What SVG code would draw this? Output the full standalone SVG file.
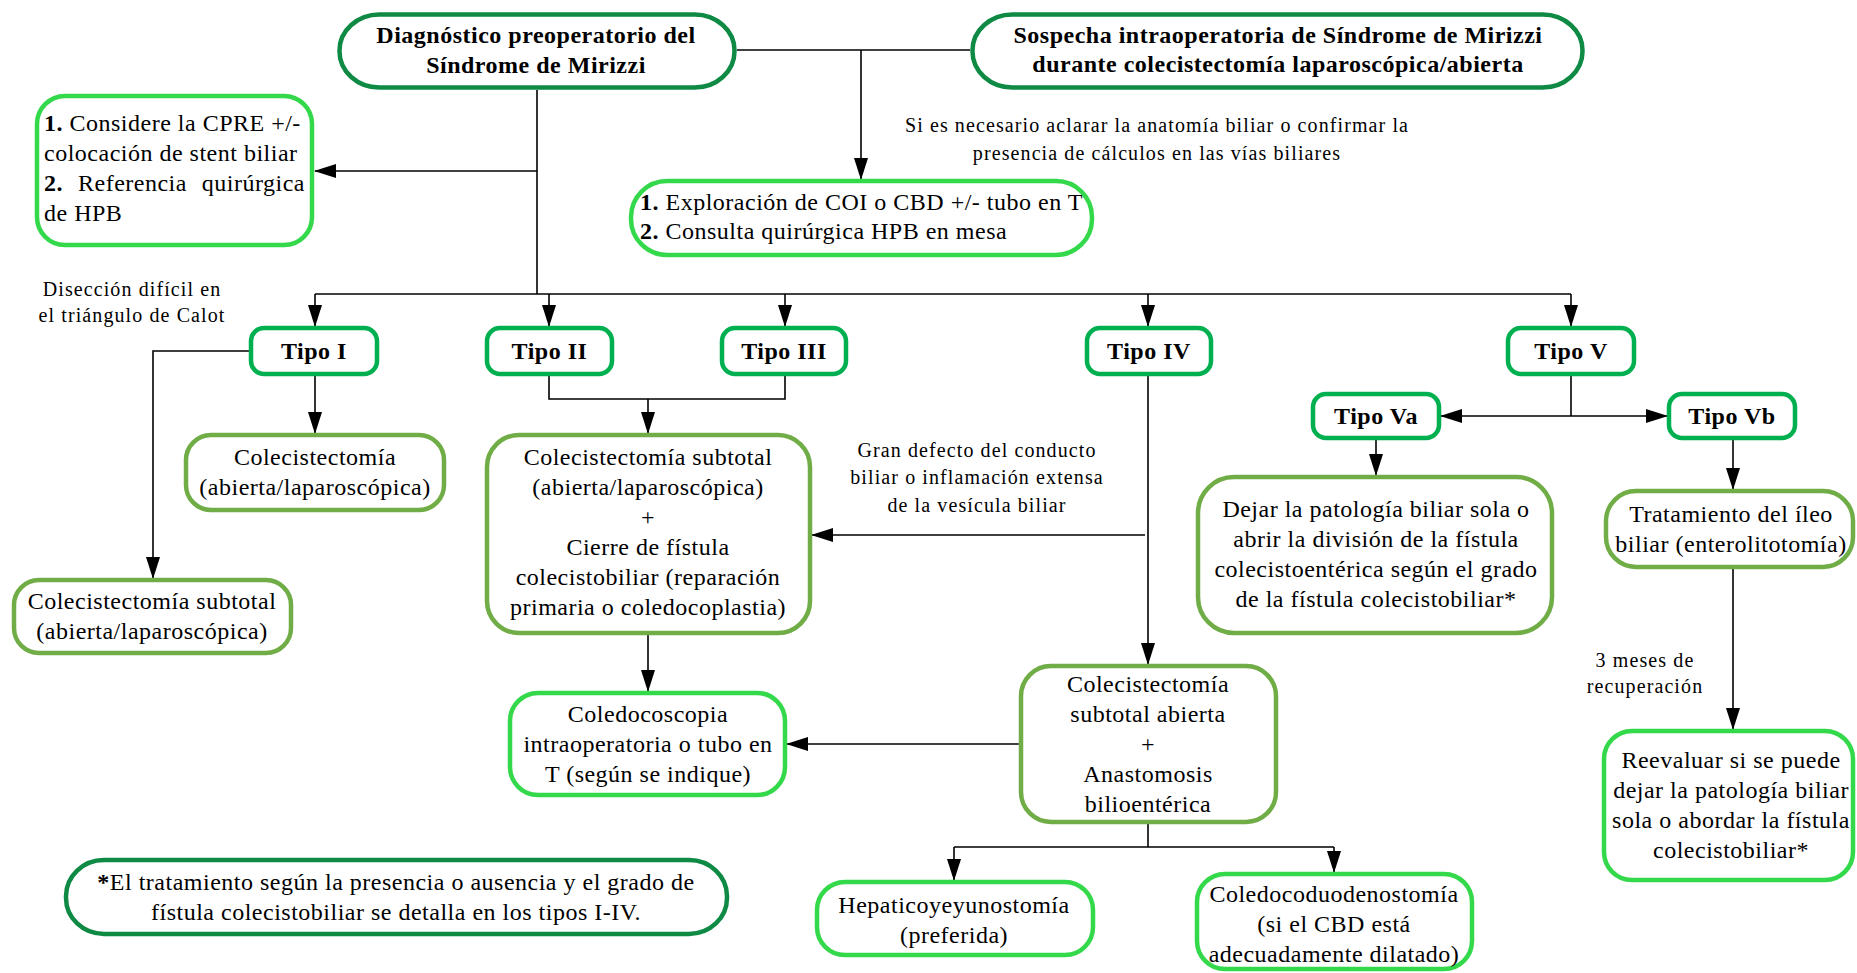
<svg xmlns="http://www.w3.org/2000/svg" width="1857" height="973" viewBox="0 0 1857 973">
<style>
rect{fill:#fff;stroke-width:4.5}
.dk{stroke:#0e8a45}
.tp{stroke:#00b050}
.ol{stroke:#70ad47}
.br{stroke:#33d94a}
text{font-family:"Liberation Serif","Times New Roman",serif;fill:#000}
.t{font-size:24px;letter-spacing:0.5px;text-anchor:middle}
.tl{font-size:24px;letter-spacing:0.5px}
.b{font-weight:bold}
.l{font-size:20px;letter-spacing:1.1px;text-anchor:middle}
#edges path,#edges line{fill:none;stroke:#000;stroke-width:1.6}
</style>
<defs>
<marker id="ah" markerUnits="userSpaceOnUse" markerWidth="22" markerHeight="14" refX="21" refY="7" orient="auto">
<path d="M0,0 L22,7 L0,14 z" fill="#000"/>
</marker>
</defs>

<g id="edges">
<line x1="737" y1="50" x2="970" y2="50"/>
<line x1="861" y1="50" x2="861" y2="179" marker-end="url(#ah)"/>
<line x1="537" y1="90" x2="537" y2="294"/>
<line x1="537" y1="171" x2="315" y2="171" marker-end="url(#ah)"/>
<line x1="315" y1="294" x2="1571" y2="294"/>
<line x1="315" y1="294" x2="315" y2="326" marker-end="url(#ah)"/>
<line x1="549" y1="294" x2="549" y2="326" marker-end="url(#ah)"/>
<line x1="785" y1="294" x2="785" y2="326" marker-end="url(#ah)"/>
<line x1="1148" y1="294" x2="1148" y2="326" marker-end="url(#ah)"/>
<line x1="1571" y1="294" x2="1571" y2="326" marker-end="url(#ah)"/>
<line x1="315" y1="376" x2="315" y2="433" marker-end="url(#ah)"/>
<path d="M249,351 H153 V578" marker-end="url(#ah)"/>
<path d="M549,376 V399 H785 V376"/>
<line x1="648" y1="399" x2="648" y2="433" marker-end="url(#ah)"/>
<line x1="1148" y1="376" x2="1148" y2="664" marker-end="url(#ah)"/>
<line x1="1145" y1="535" x2="812" y2="535" marker-end="url(#ah)"/>
<line x1="648" y1="635" x2="648" y2="691" marker-end="url(#ah)"/>
<line x1="1019" y1="744" x2="787" y2="744" marker-end="url(#ah)"/>
<path d="M1148,824 V847"/>
<line x1="954" y1="847" x2="1334" y2="847"/>
<line x1="954" y1="847" x2="954" y2="880" marker-end="url(#ah)"/>
<line x1="1334" y1="847" x2="1334" y2="872" marker-end="url(#ah)"/>
<path d="M1571,376 V416"/>
<line x1="1571" y1="416" x2="1441" y2="416" marker-end="url(#ah)"/>
<line x1="1571" y1="416" x2="1667" y2="416" marker-end="url(#ah)"/>
<line x1="1376" y1="440" x2="1376" y2="475" marker-end="url(#ah)"/>
<line x1="1733" y1="440" x2="1733" y2="489" marker-end="url(#ah)"/>
<line x1="1733" y1="569" x2="1733" y2="729" marker-end="url(#ah)"/>
</g>

<g id="labels">
<text class="l"><tspan x="1157" y="132">Si es necesario aclarar la anatomía biliar o confirmar la</tspan><tspan x="1157" y="160">presencia de cálculos en las vías biliares</tspan></text>
<text class="l"><tspan x="132" y="296">Disección difícil en</tspan><tspan x="132" y="322">el triángulo de Calot</tspan></text>
<text class="l"><tspan x="977" y="457">Gran defecto del conducto</tspan><tspan x="977" y="484">biliar o inflamación extensa</tspan><tspan x="977" y="512">de la vesícula biliar</tspan></text>
<text class="l"><tspan x="1645" y="667">3 meses de</tspan><tspan x="1645" y="693">recuperación</tspan></text>
</g>

<g id="n-diag">
<rect class="dk" x="339.5" y="14.5" width="395" height="73" rx="40" ry="36"/>
<text class="t b"><tspan x="536" y="43">Diagnóstico preoperatorio del</tspan><tspan x="536" y="73">Síndrome de Mirizzi</tspan></text>
</g>
<g id="n-sospecha">
<rect class="dk" x="972.5" y="14.5" width="610" height="73" rx="40" ry="36"/>
<text class="t b"><tspan x="1278" y="43">Sospecha intraoperatoria de Síndrome de Mirizzi</tspan><tspan x="1278" y="72">durante colecistectomía laparoscópica/abierta</tspan></text>
</g>
<g id="n-cpre">
<rect class="br" x="37" y="96" width="275" height="149" rx="28"/>
<text class="tl"><tspan x="44" y="131"><tspan class="b">1.</tspan> Considere la CPRE +/-</tspan><tspan x="44" y="161">colocación de stent biliar</tspan><tspan x="44" y="191" class="b">2.</tspan><tspan x="78" y="191">Referencia</tspan></text>
<text class="tl" x="305" y="191" text-anchor="end">quirúrgica</text>
<text class="tl" x="44" y="221">de HPB</text>
</g>
<g id="n-coi">
<rect class="br" x="631" y="181" width="461" height="74" rx="36"/>
<text class="tl"><tspan x="640" y="210"><tspan class="b">1.</tspan> Exploración de COI o CBD +/- tubo en T</tspan><tspan x="640" y="239"><tspan class="b">2.</tspan> Consulta quirúrgica HPB en mesa</tspan></text>
</g>
<g id="n-tipo1">
<rect class="tp" x="251" y="328" width="126" height="46" rx="13"/>
<text class="t b" x="314" y="359">Tipo I</text>
</g>
<g id="n-tipo2">
<rect class="tp" x="487" y="328" width="125" height="46" rx="13"/>
<text class="t b" x="549.5" y="359">Tipo II</text>
</g>
<g id="n-tipo3">
<rect class="tp" x="722" y="328" width="124" height="46" rx="13"/>
<text class="t b" x="784" y="359">Tipo III</text>
</g>
<g id="n-tipo4">
<rect class="tp" x="1087" y="328" width="124" height="46" rx="13"/>
<text class="t b" x="1149" y="359">Tipo IV</text>
</g>
<g id="n-tipo5">
<rect class="tp" x="1508" y="328" width="126" height="46" rx="13"/>
<text class="t b" x="1571" y="359">Tipo V</text>
</g>
<g id="n-tipo5a">
<rect class="tp" x="1313" y="394" width="126" height="44" rx="13"/>
<text class="t b" x="1376" y="424">Tipo Va</text>
</g>
<g id="n-tipo5b">
<rect class="tp" x="1669" y="394" width="126" height="44" rx="13"/>
<text class="t b" x="1732" y="424">Tipo Vb</text>
</g>
<g id="n-colec">
<rect class="ol" x="186" y="435" width="258" height="75" rx="25"/>
<text class="t"><tspan x="315" y="465">Colecistectomía</tspan><tspan x="315" y="495">(abierta/laparoscópica)</tspan></text>
</g>
<g id="n-subtotal1">
<rect class="ol" x="14" y="580" width="277" height="73" rx="25"/>
<text class="t"><tspan x="152" y="609">Colecistectomía subtotal</tspan><tspan x="152" y="639">(abierta/laparoscópica)</tspan></text>
</g>
<g id="n-subtotal2">
<rect class="ol" x="487" y="435" width="323" height="198" rx="32"/>
<text class="t"><tspan x="648" y="465">Colecistectomía subtotal</tspan><tspan x="648" y="495">(abierta/laparoscópica)</tspan><tspan x="648" y="525">+</tspan><tspan x="648" y="555">Cierre de fístula</tspan><tspan x="648" y="585">colecistobiliar (reparación</tspan><tspan x="648" y="615">primaria o coledocoplastia)</tspan></text>
</g>
<g id="n-coledocoscopia">
<rect class="br" x="510" y="693" width="275" height="102" rx="28"/>
<text class="t"><tspan x="648" y="722">Coledocoscopia</tspan><tspan x="648" y="752">intraoperatoria o tubo en</tspan><tspan x="648" y="782">T (según se indique)</tspan></text>
</g>
<g id="n-subtotal-abierta">
<rect class="ol" x="1021" y="666" width="255" height="156" rx="30"/>
<text class="t"><tspan x="1148" y="692">Colecistectomía</tspan><tspan x="1148" y="722">subtotal abierta</tspan><tspan x="1148" y="752">+</tspan><tspan x="1148" y="782">Anastomosis</tspan><tspan x="1148" y="812">bilioentérica</tspan></text>
</g>
<g id="n-hepatico">
<rect class="br" x="817" y="882" width="276" height="73" rx="28"/>
<text class="t"><tspan x="954" y="913">Hepaticoyeyunostomía</tspan><tspan x="954" y="943">(preferida)</tspan></text>
</g>
<g id="n-coledocoduodeno">
<rect class="br" x="1197" y="874" width="275" height="95" rx="28"/>
<text class="t"><tspan x="1334" y="902">Coledocoduodenostomía</tspan><tspan x="1334" y="932">(si el CBD está</tspan><tspan x="1334" y="962">adecuadamente dilatado)</tspan></text>
</g>
<g id="n-dejar">
<rect class="ol" x="1198" y="477" width="354" height="156" rx="36"/>
<text class="t"><tspan x="1376" y="517">Dejar la patología biliar sola o</tspan><tspan x="1376" y="547">abrir la división de la fístula</tspan><tspan x="1376" y="577">colecistoentérica según el grado</tspan><tspan x="1376" y="607">de la fístula colecistobiliar*</tspan></text>
</g>
<g id="n-ileo">
<rect class="ol" x="1606" y="491" width="247" height="76" rx="30"/>
<text class="t"><tspan x="1731" y="522">Tratamiento del íleo</tspan><tspan x="1731" y="552">biliar (enterolitotomía)</tspan></text>
</g>
<g id="n-reevaluar">
<rect class="br" x="1604" y="731" width="249" height="149" rx="28"/>
<text class="t"><tspan x="1731" y="768">Reevaluar si se puede</tspan><tspan x="1731" y="798">dejar la patología biliar</tspan><tspan x="1731" y="828">sola o abordar la fístula</tspan><tspan x="1731" y="858">colecistobiliar*</tspan></text>
</g>
<g id="n-nota">
<rect class="dk" x="66" y="860" width="661" height="74" rx="38" ry="36"/>
<text class="t"><tspan x="396" y="890"><tspan class="b">*</tspan>El tratamiento según la presencia o ausencia y el grado de</tspan><tspan x="396" y="920">fístula colecistobiliar se detalla en los tipos I-IV.</tspan></text>
</g>
</svg>
